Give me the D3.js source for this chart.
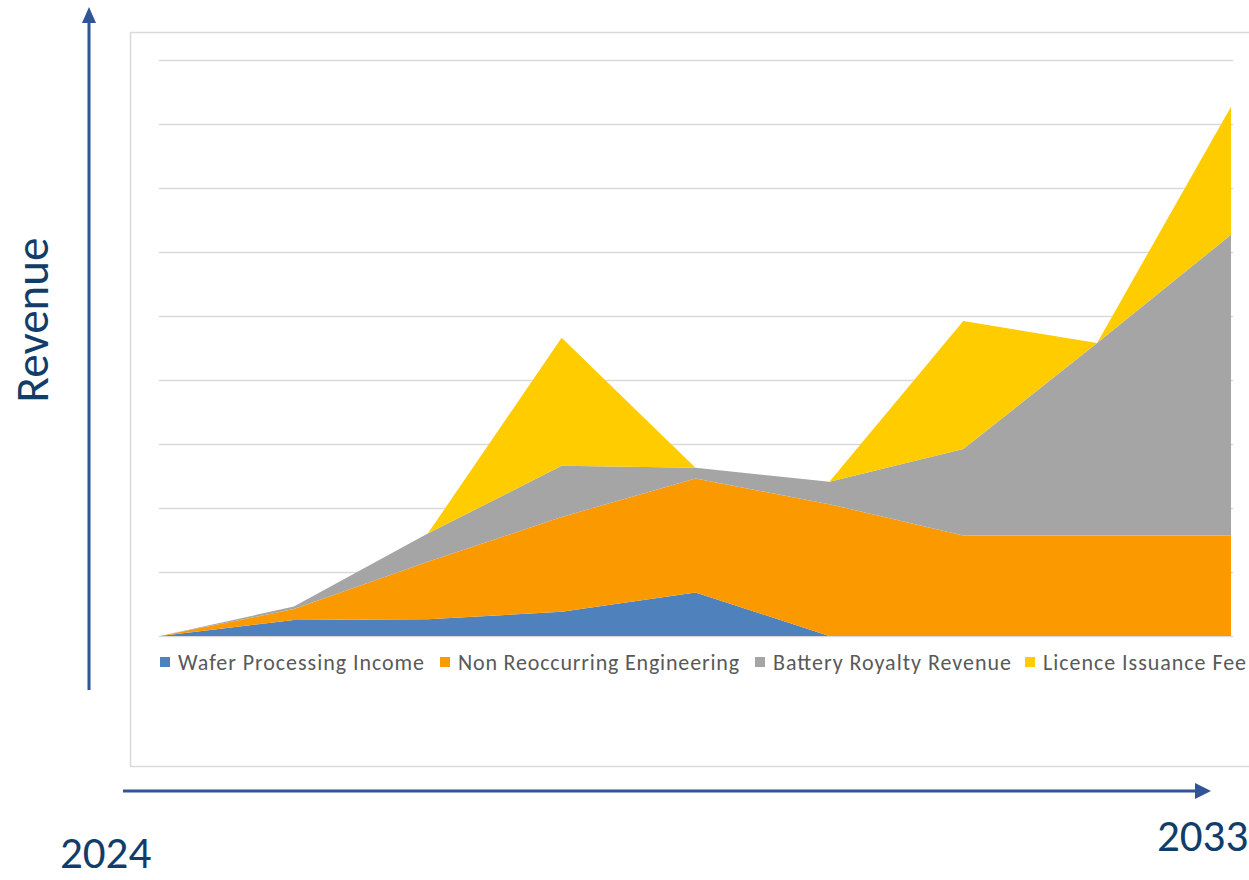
<!DOCTYPE html>
<html>
<head>
<meta charset="utf-8">
<script src="https://cdn.jsdelivr.net/npm/d3@7"></script>
<style>
body { margin: 0; background: #fff; }
svg { display: block; }
</style>
</head>
<body>
<div class="chart"></div>
<script>
// Revenue stack, 9 periods from 2024 to 2033 (gridline = 1 unit)
var periods = [0, 1, 2, 3, 4, 5, 6, 7, 8];
var waferIncome = [0, 0.25, 0.26, 0.38, 0.68, 0, 0, 0, 0];
var nonReoccurring = [0, 0.17, 0.90, 1.48, 1.78, 2.06, 1.57, 1.57, 1.57];
var batteryRoyalty = [0, 0.04, 0.44, 0.80, 0.17, 0.35, 1.35, 3.01, 4.70];
var licenceFee = [0, 0, 0, 2.00, 0, 0, 2.00, 0, 2.00];
var seriesNames = ["Wafer Processing Income", "Non Reoccurring Engineering", "Battery Royalty Revenue", "Licence Issuance Fee"];
var seriesColors = ["#4f81bd", "#fb9a00", "#a5a5a5", "#ffcc00"];
var yTicks = d3.range(0, 10);
var endLabels = ["2024", "2033"];
var yTitle = "Revenue";

var svgWidth = 1249;
var svgHeight = 880;
var font = "Calibri, Carlito, 'Liberation Sans', Arial, sans-serif";
var arrowColor = "#2f5597";
var titleColor = "#123d68";

var svg = d3.select(".chart")
    .append("svg")
    .attr("width", svgWidth)
    .attr("height", svgHeight);

// chart frame (right side runs off the page)
svg.append("rect")
    .attr("x", 130.5)
    .attr("y", 32.5)
    .attr("width", 1200)
    .attr("height", 734)
    .attr("fill", "#fff")
    .attr("stroke", "#d9d9d9")
    .attr("stroke-width", 1.5);

// build table for d3.stack
var table = periods.map(function(p, i) {
    return {
        period: p,
        s0: waferIncome[i],
        s1: nonReoccurring[i],
        s2: batteryRoyalty[i],
        s3: licenceFee[i]
    };
});
var keys = ["s0", "s1", "s2", "s3"];
var stacked = d3.stack().keys(keys)(table);

var xScale = d3.scaleLinear().domain([0, 8]).range([160, 1231]);
var yScale = d3.scaleLinear().domain([0, 9]).range([636, 60]);

// gridlines
var grid = svg.append("g")
    .attr("transform", "translate(159,0)")
    .call(d3.axisLeft(yScale).tickValues(yTicks).tickSize(-1074).tickFormat(""));
grid.select(".domain").remove();
grid.selectAll("line")
    .attr("stroke", "#d9d9d9")
    .attr("stroke-width", 1.5);

var area = d3.area()
    .x(function(d) { return xScale(d.data.period); })
    .y0(function(d) { return yScale(d[0]); })
    .y1(function(d) { return yScale(d[1]); });

svg.append("g").selectAll("path")
    .data(stacked)
    .enter()
    .append("path")
    .attr("d", area)
    .attr("fill", function(d, i) { return seriesColors[i]; });

// legend
var legendX = [160, 440, 755, 1025];
var legendWidths = [246, 281, 238, 203];
var legend = svg.append("g");
seriesNames.forEach(function(name, i) {
    legend.append("rect")
        .attr("x", legendX[i])
        .attr("y", 657)
        .attr("width", 10)
        .attr("height", 10)
        .attr("fill", seriesColors[i]);
    legend.append("text")
        .attr("x", legendX[i] + 18)
        .attr("y", 670)
        .attr("font-family", font)
        .attr("font-size", "22px")
        .attr("fill", "#595959")
        .attr("textLength", legendWidths[i])
        .text(name);
});

// y arrow
svg.append("line")
    .attr("x1", 89).attr("y1", 690)
    .attr("x2", 89).attr("y2", 20)
    .attr("stroke", arrowColor)
    .attr("stroke-width", 3);
svg.append("polygon")
    .attr("points", "89,7 82,23 96,23")
    .attr("fill", arrowColor);

// x arrow
svg.append("line")
    .attr("x1", 123).attr("y1", 791)
    .attr("x2", 1198).attr("y2", 791)
    .attr("stroke", arrowColor)
    .attr("stroke-width", 3);
svg.append("polygon")
    .attr("points", "1211,791 1195,783 1195,799")
    .attr("fill", arrowColor);

// axis title
svg.append("text")
    .attr("transform", "translate(48,320) rotate(-90)")
    .attr("text-anchor", "middle")
    .attr("font-family", font)
    .attr("font-size", "47px")
    .attr("fill", titleColor)
    .text(yTitle);

// end labels
svg.append("text")
    .attr("x", 60)
    .attr("y", 868)
    .attr("font-family", font)
    .attr("font-size", "45px")
    .attr("fill", titleColor)
    .text(endLabels[0]);
svg.append("text")
    .attr("x", 1157)
    .attr("y", 851)
    .attr("font-family", font)
    .attr("font-size", "45px")
    .attr("fill", titleColor)
    .text(endLabels[1]);
</script>
</body>
</html>
